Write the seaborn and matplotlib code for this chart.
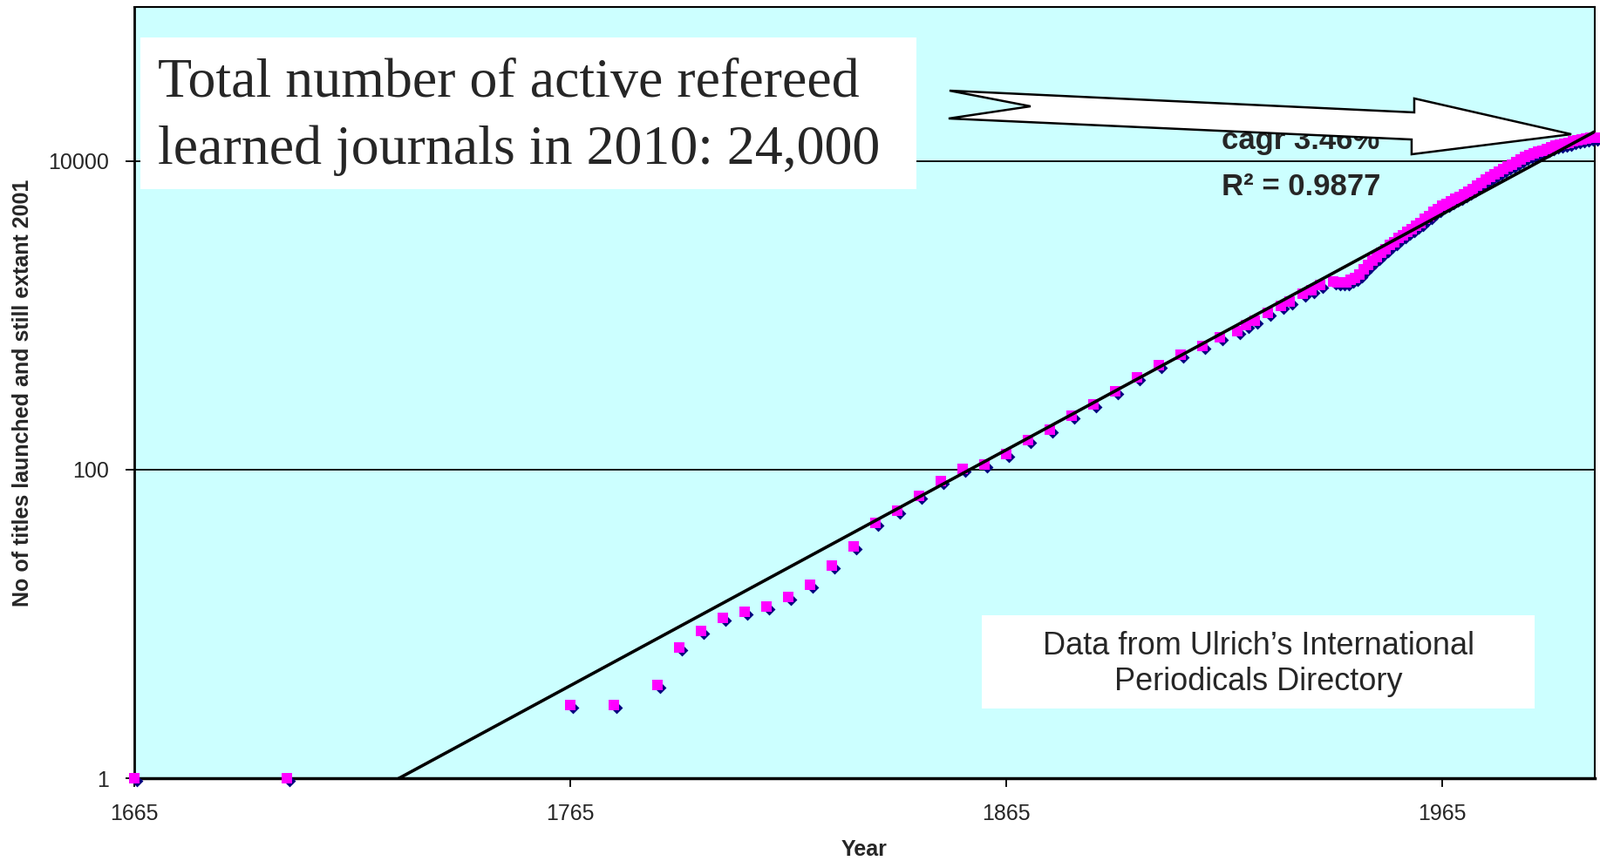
import numpy as np
import matplotlib
matplotlib.use("Agg")
import matplotlib.pyplot as plt
from matplotlib.patches import Polygon, Rectangle
from matplotlib.transforms import ScaledTranslation
import seaborn as sns

# titles launched and still extant in 2001 (cumulative)
years = [1665, 1700, 1765, 1775, 1785, 1790, 1795, 1800, 1805, 1810,
         1815, 1820, 1825, 1830, 1835, 1840, 1845, 1850, 1855, 1860,
         1865, 1870, 1875, 1880, 1885, 1890, 1895, 1900, 1905, 1910,
         1914, 1918, 1920, 1922, 1925, 1928, 1930, 1933, 1935, 1937,
         1940, 1941, 1942, 1943, 1944, 1945, 1946, 1947, 1948, 1949,
         1950, 1951, 1952, 1953, 1954, 1955, 1956, 1957, 1958, 1959,
         1960, 1961, 1962, 1963, 1964, 1965, 1966, 1967, 1968, 1969,
         1970, 1971, 1972, 1973, 1974, 1975, 1976, 1977, 1978, 1979,
         1980, 1981, 1982, 1983, 1984, 1985, 1986, 1987, 1988, 1989,
         1990, 1991, 1992, 1993, 1994, 1995, 1996, 1997, 1998, 1999,
         2000]
titles = [1, 1, 3, 3, 4, 7, 9, 11, 12, 13,
          15, 18, 24, 32, 45, 54, 68, 84, 101, 108,
          126, 155, 181, 223, 264, 324, 398, 475, 560, 632,
          722, 791, 866, 925, 1040, 1153, 1231, 1383, 1458, 1577,
          1660, 1650, 1640, 1650, 1700, 1760, 1850, 1980, 2120, 2260,
          2400, 2550, 2700, 2850, 3000, 3170, 3330, 3480, 3630, 3800,
          3980, 4220, 4420, 4680, 4900, 5130, 5310, 5500, 5690, 5890,
          6100, 6310, 6610, 6920, 7240, 7590, 7940, 8220, 8610, 8910,
          9230, 9550, 9890, 10230, 10720, 10960, 11220, 11480, 11750, 12020,
          12300, 12590, 12880, 13030, 13180, 13490, 13650, 13800, 13960, 14130,
          14290]

x_ticks = [1665, 1765, 1865, 1965]
y_ticks = [1, 100, 10000]
cagr_label = "cagr 3.46%"
r2_label = "R² = 0.9877"
box_title = ["Total number of active refereed", "learned journals in 2010: 24,000"]
source_note = "Data from Ulrich\u2019s International\nPeriodicals Directory"

sns.set_style("white")
plt.rcParams['font.family'] = ['Liberation Sans', 'DejaVu Sans']

fig = plt.figure(figsize=(18.35, 9.88), dpi=100)
ax = fig.add_axes([154 / 1835, 1 - 893 / 988, 1675 / 1835, 885 / 988])
ax.set_facecolor("#CCFFFF")

# exponential trend fitted to the points (straight line on the log axis)
yr = np.array(years, dtype=float)
slope, icpt = np.polyfit(yr, np.log(titles), 1)
trend = np.exp(icpt + slope * yr)

# navy diamonds sit just behind the magenta squares
shift = ax.transData + ScaledTranslation(3 / 100, -3 / 100, fig.dpi_scale_trans)
sns.scatterplot(x=years, y=titles, marker="D", s=50, color="#000080",
                edgecolor="#000080", linewidth=0, ax=ax, transform=shift,
                zorder=3, clip_on=False)
sns.scatterplot(x=years, y=titles, marker="s", s=74, color="#FF00FF",
                edgecolor="#FF00FF", linewidth=0, ax=ax, zorder=4, clip_on=False)
sns.lineplot(x=years, y=trend, color="black", linewidth=2.6, ax=ax, zorder=5)

ax.set_yscale("log")
ax.set_xlim(1665, 2000)
ax.set_ylim(1, 100000)
ax.set_xticks(x_ticks)
ax.set_xticklabels([str(t) for t in x_ticks])
ax.set_yticks(y_ticks)
ax.set_yticklabels([str(t) for t in y_ticks])
ax.yaxis.set_minor_locator(matplotlib.ticker.NullLocator())
ax.tick_params(axis="both", direction="out", length=7, width=1.3, color="black",
               labelsize=18, bottom=True, left=True)
ax.tick_params(axis="x", pad=14)
ax.tick_params(axis="y", pad=14)
for v in y_ticks[1:]:
    ax.axhline(v, color="black", linewidth=1.3, zorder=2)
for sp in ax.spines.values():
    sp.set_color("black")
    sp.set_linewidth(1.5)
ax.spines["bottom"].set_linewidth(2.5)
ax.spines["left"].set_linewidth(2)

ax.set_xlabel("Year", fontsize=18, fontweight="bold", va="center")
ax.set_ylabel("No of titles launched and still extant 2001", fontsize=18,
              fontweight="bold", va="center")
ax.xaxis.set_label_coords(0.5, -0.0927)
ax.yaxis.set_label_coords(-0.0764, 0.5)

# fit labels
ax.text(0.7988, 0.8271, cagr_label, transform=ax.transAxes, fontsize=25,
        fontweight="bold", ha="center", va="center", zorder=6)
ax.text(0.7988, 0.7672, r2_label, transform=ax.transAxes, fontsize=25,
        fontweight="bold", ha="center", va="center", zorder=6)

# block arrow pointing at the 2001 end of the series
arrow_pts = [(0.5582, 0.8915), (0.8764, 0.8633), (0.8764, 0.8814), (0.9839, 0.8350),
             (0.8746, 0.8090), (0.8746, 0.8282), (0.5576, 0.8554), (0.6137, 0.8712)]
ax.add_patch(Polygon(arrow_pts, closed=True, transform=ax.transAxes, facecolor="white",
                     edgecolor="black", linewidth=1.8, zorder=7, clip_on=False))

# headline box
ax.add_patch(Rectangle((0.0042, 0.7638), 0.5313, 0.1967, transform=ax.transAxes,
                       facecolor="white", edgecolor="none", zorder=8))
ax.text(0.0161, 0.9006, box_title[0], transform=ax.transAxes, fontsize=46,
        family="Liberation Serif", ha="left", va="center", zorder=9)
ax.text(0.0161, 0.8136, box_title[1], transform=ax.transAxes, fontsize=46,
        family="Liberation Serif", ha="left", va="center", zorder=9)

# source box
ax.add_patch(Rectangle((0.5803, 0.0904), 0.3785, 0.1209, transform=ax.transAxes,
                       facecolor="white", edgecolor="none", zorder=8))
ax.text(0.7696, 0.1480, source_note, transform=ax.transAxes, fontsize=26,
        ha="center", va="center", linespacing=1.2, zorder=9)

fig.savefig("out.png", dpi=100, facecolor="white")
